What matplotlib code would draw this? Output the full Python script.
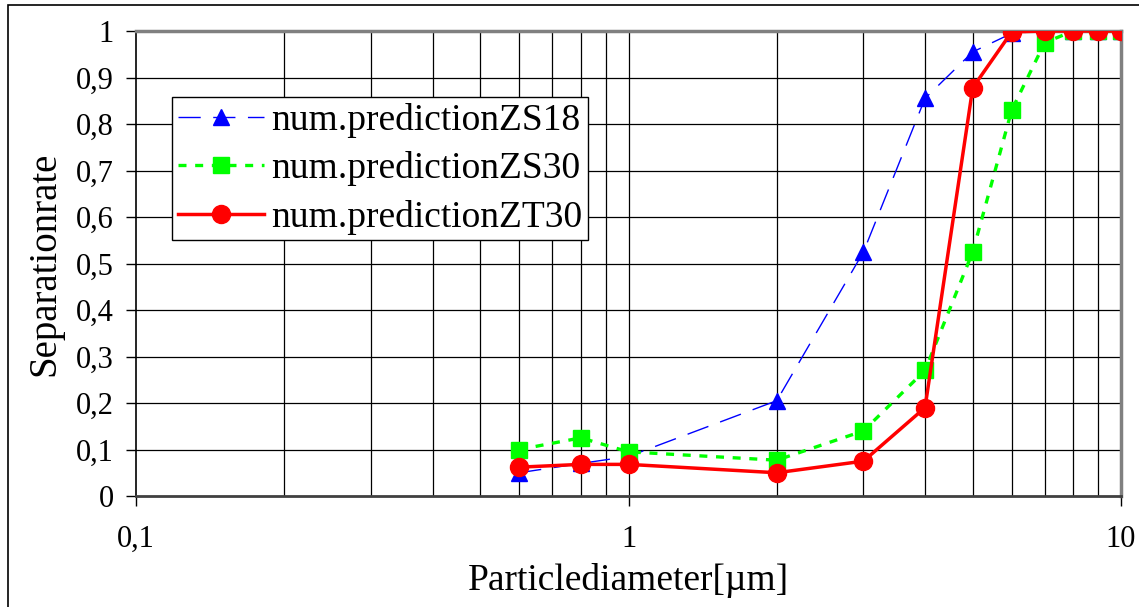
import numpy as np
import matplotlib.pyplot as plt
from matplotlib.patches import Rectangle
from matplotlib.ticker import FixedLocator, FixedFormatter, NullLocator

plt.rcParams['font.family'] = ['Liberation Serif', 'DejaVu Serif']

# particle diameter [um]
diam = [0.6, 0.8, 1, 2, 3, 4, 5, 6, 7, 8, 9, 10]
zs18 = [0.05, 0.07, 0.085, 0.205, 0.525, 0.855, 0.955, 0.995, 1.0, 1.0, 1.0, 1.0]
zs30 = [0.10, 0.125, 0.095, 0.077, 0.14, 0.27, 0.525, 0.83, 0.975, 1.0, 1.0, 1.0]
zt30 = [0.062, 0.068, 0.068, 0.05, 0.075, 0.19, 0.878, 0.998, 1.0, 1.0, 1.0, 1.0]

y_ticks = [0, 0.1, 0.2, 0.3, 0.4, 0.5, 0.6, 0.7, 0.8, 0.9, 1]
y_labels = ['0', '0,1', '0,2', '0,3', '0,4', '0,5', '0,6', '0,7', '0,8', '0,9', '1']
x_ticks = [0.1, 1, 10]
x_labels = ['0,1', '1', '10']
x_grid = [0.2, 0.3, 0.4, 0.5, 0.6, 0.7, 0.8, 0.9, 1, 2, 3, 4, 5, 6, 7, 8, 9]

fig = plt.figure(figsize=(11.39, 6.07), dpi=100)
ax = fig.add_axes([136 / 1139, 1 - 496 / 607, 985 / 1139, 465 / 607])

for xv in x_grid:
    ax.axvline(xv, color='black', lw=0.9, zorder=1)
for yv in y_ticks[1:-1]:
    ax.axhline(yv, color='black', lw=0.9, zorder=1)

ax.plot(diam, zs18, color='blue', lw=1.0, dashes=(16, 9), marker='^', ms=12,
        label='num.predictionZS18', zorder=3)
ax.plot(diam, zs30, color='#00ff00', lw=2.4, dashes=(2.4, 2.6), marker='s', ms=11,
        label='num.predictionZS30', zorder=4)
ax.plot(diam, zt30, color='red', lw=2.5, marker='o', ms=13,
        label='num.predictionZT30', zorder=5)

ax.set_xscale('log')
ax.set_xlim(0.1, 10)
ax.set_ylim(0, 1)
ax.xaxis.set_major_locator(FixedLocator(x_ticks))
ax.xaxis.set_major_formatter(FixedFormatter(x_labels))
ax.xaxis.set_minor_locator(NullLocator())
ax.set_yticks(y_ticks)
ax.set_yticklabels(y_labels)
ax.tick_params(axis='both', direction='out', length=7, width=1, labelsize=22)
ax.tick_params(axis='x', pad=14)
ax.tick_params(axis='y', pad=9)

for side in ['top', 'right']:
    ax.spines[side].set_color('#808080')
    ax.spines[side].set_linewidth(2.5)
ax.spines['bottom'].set_color('#404040')
ax.spines['bottom'].set_linewidth(2)
ax.spines['left'].set_linewidth(1.2)

ax.set_xlabel('Particlediameter[µm]', fontsize=27, va='center')
ax.set_ylabel('Separationrate', fontsize=28, va='center')
ax.xaxis.set_label_coords(0.5, (496 - 580) / 465)
ax.yaxis.set_label_coords((45 - 136) / 985, 0.5)

leg = ax.legend(loc='upper left', bbox_to_anchor=(36 / 985, 1 - 66 / 465), fontsize=27,
                frameon=True, fancybox=False, edgecolor='black', framealpha=1,
                handlelength=2.3, borderpad=0.15, labelspacing=0.36, handletextpad=0.2,
                borderaxespad=0, numpoints=1)
leg.get_frame().set_linewidth(1.0)
leg.set_zorder(10)

fig.patches.append(Rectangle((8 / 1139, -0.05), 1.2, 0.05 + 1 - 5 / 607, transform=fig.transFigure,
                             fill=False, edgecolor='black', lw=1.2))

fig.savefig('out.png', dpi=100)
